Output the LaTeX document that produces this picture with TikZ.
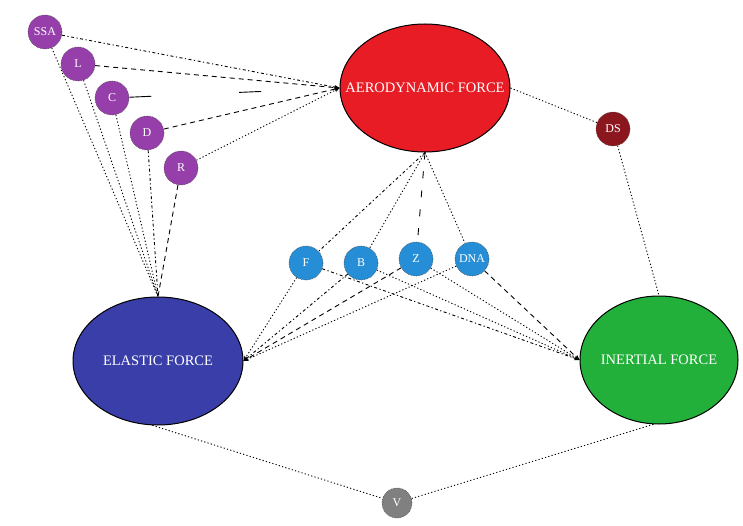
\documentclass[tikz,border=0pt]{standalone}
\usepackage{fontspec}
\setmainfont{Liberation Serif}
\usetikzlibrary{shapes.geometric,arrows.meta}
\definecolor{purp}{RGB}{150,62,170}
\definecolor{aerored}{RGB}{232,28,36}
\definecolor{dsred}{RGB}{140,22,30}
\definecolor{skyb}{RGB}{38,142,214}
\definecolor{elblue}{RGB}{58,62,168}
\definecolor{ingreen}{RGB}{34,176,58}
\definecolor{vgray}{RGB}{128,128,128}
\newcommand{\forcelabel}[1]{\makebox[0pt]{#1}}
\tikzset{
  bigforce/.style={ellipse,draw=black,line width=1pt,minimum width=170pt,minimum height=128pt,
    inner sep=0pt,text=white,font=\fontsize{14.5}{16}\selectfont},
  smallnode/.style={circle,draw=black!70,densely dotted,line width=0.6pt,minimum size=34pt,inner sep=0pt,
    text=white,font=\fontsize{12}{13}\selectfont},
  link/.style={line width=0.9pt,black},
  dotl/.style={link,dash pattern=on 1.2pt off 2.2pt},
  dashl/.style={link,dash pattern=on 5pt off 4pt},
  dashdotl/.style={link,dash pattern=on 3pt off 2.5pt on 1.2pt off 2.5pt},
  sparsel/.style={link,dash pattern=on 22pt off 88pt},
  tip/.style={-{Stealth[length=5pt,width=4pt]}}
}
\begin{document}
\begin{tikzpicture}[x=1pt,y=-1pt]
\useasboundingbox (0,0) rectangle (743,526);

% main forces
\node[bigforce,fill=aerored] (aero) at (425,88) {\forcelabel{AERODYNAMIC FORCE}};
\node[bigforce,fill=elblue] (elastic) at (158,361) {\forcelabel{ELASTIC FORCE}};
\node[bigforce,fill=ingreen,minimum width=158pt] (inertial) at (659,360) {\forcelabel{INERTIAL FORCE}};

% parameters
\node[smallnode,fill=purp] (ssa) at (45,32) {SSA};
\node[smallnode,fill=purp] (l) at (78,64) {L};
\node[smallnode,fill=purp] (c) at (112,98) {C};
\node[smallnode,fill=purp] (d) at (147,133) {D};
\node[smallnode,fill=purp] (r) at (181,168) {R};
\node[smallnode,fill=dsred] (ds) at (613,129) {DS};
\node[smallnode,fill=skyb] (f) at (306,263) {F};
\node[smallnode,fill=skyb] (b) at (361,263) {B};
\node[smallnode,fill=skyb] (z) at (416,259) {Z};
\node[smallnode,fill=skyb] (dna) at (472,259) {DNA};
\node[smallnode,fill=vgray,minimum size=30pt] (v) at (397,503) {V};

% links into the aerodynamic force
\draw[dashdotl,tip] (ssa) -- (aero.west);
\draw[dashl,tip] (l) -- (aero.west);
\draw[sparsel,tip] (c) -- (aero.west);
\draw[dashl,tip] (d) -- (aero.west);
\draw[dotl,tip] (r) -- (aero.west);

% links into the elastic force from above
\draw[dotl] (ssa) -- (elastic.north);
\draw[dotl] (l) -- (elastic.north);
\draw[dotl] (c) -- (elastic.north);
\draw[dashdotl] (d) -- (elastic.north);
\draw[dashl] (r) -- (elastic.north);

% aerodynamic force down to the middle row
\draw[dashdotl] (aero.south) -- (f);
\draw[dotl] (aero.south) -- (b);
\draw[link,dash pattern=on 7pt off 12pt] (aero.south) -- (z);
\draw[dotl] (aero.south) -- (dna);

% aerodynamic force to DS and on to the inertial force
\draw[dotl] (aero.east) -- (ds);
\draw[dotl] (ds) -- (inertial.north);

% middle row to the elastic force
\draw[dotl,tip] (f) -- (elastic.east);
\draw[dashdotl,tip] (b) -- (elastic.east);
\draw[dashl,tip] (z) -- (elastic.east);
\draw[dotl,tip] (dna) -- (elastic.east);

% middle row to the inertial force
\draw[dashdotl,tip] (f) -- (inertial.west);
\draw[dotl,tip] (b) -- (inertial.west);
\draw[dotl,tip] (z) -- (inertial.west);
\draw[dashl,tip] (dna) -- (inertial.west);

% both forces to V
\draw[dotl] (elastic.265) -- (v);
\draw[dotl] (inertial.265) -- (v);
\end{tikzpicture}
\end{document}
